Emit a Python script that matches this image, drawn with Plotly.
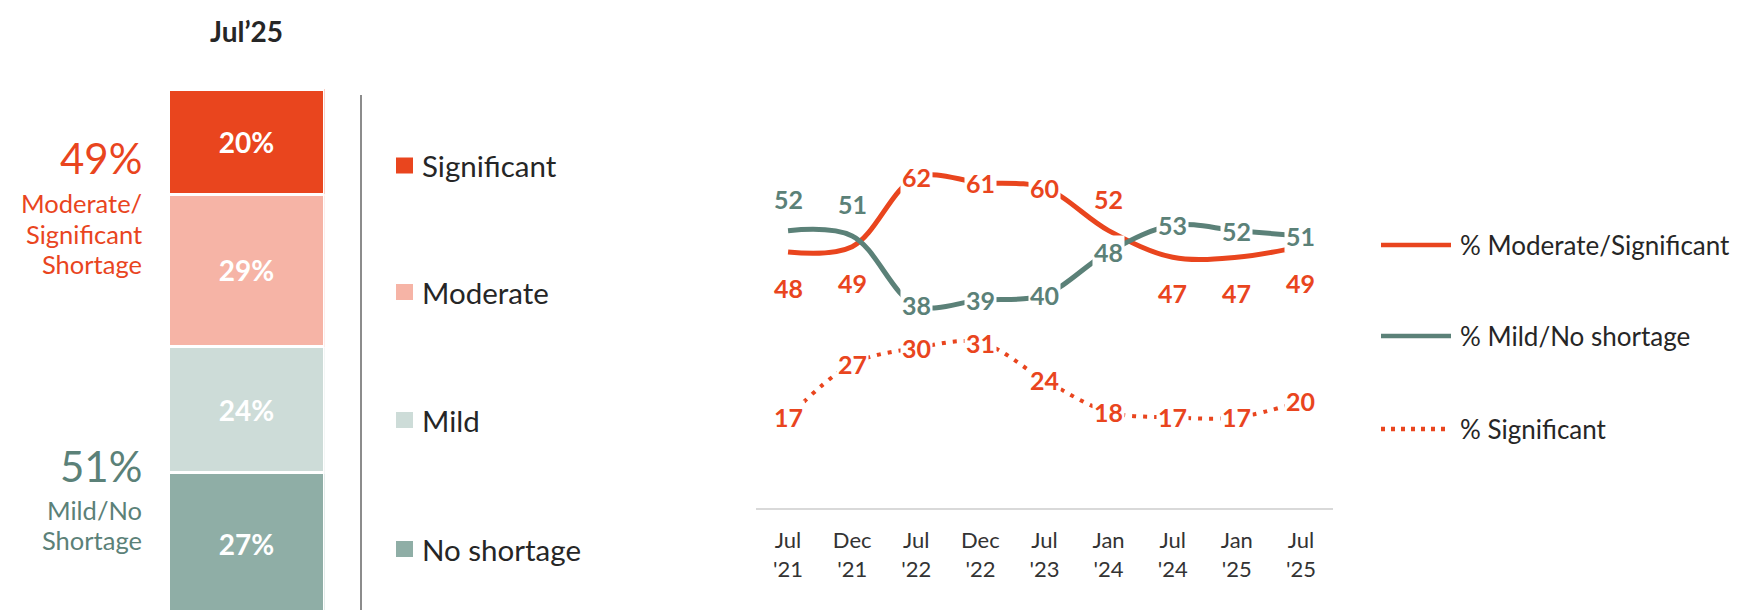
import plotly.graph_objects as go

W, H = 1738, 610
FONT = "Lato, 'Open Sans', 'DejaVu Sans', sans-serif"

# ---------------- data ----------------
bar_title = "Jul’25"
bar_categories = ["No shortage", "Mild", "Moderate", "Significant"]
bar_values = [27, 24, 29, 20]
legend_order = ["Significant", "Moderate", "Mild", "No shortage"]

months = ["Jul", "Dec", "Jul", "Dec", "Jul", "Jan", "Jul", "Jan", "Jul"]
years = ["'21", "'21", "'22", "'22", "'23", "'24", "'24", "'25", "'25"]
mod_sig = [48, 49, 62, 61, 60, 52, 47, 47, 49]
mild_none = [52, 51, 38, 39, 40, 48, 53, 52, 51]
significant = [17, 27, 30, 31, 24, 18, 17, 17, 20]
line_names = ["% Moderate/Significant", "% Mild/No shortage", "% Significant"]
upper_label = ["Moderate/", "Significant", "Shortage"]
lower_label = ["Mild/No", "Shortage"]

# ---------------- styles ----------------
ORANGE = "#E9451E"
TEAL = "#5B8178"
bar_colors = {"No shortage": "#8FAEA6", "Mild": "#CDDCD8",
              "Moderate": "#F6B4A6", "Significant": ORANGE}
TXT = "#262626"

# label placement relative to point (style only)
ms_place = ["below", "below", "mid", "mid", "mid", "above", "below", "below", "below"]
mn_place = ["above", "above", "mid", "mid", "mid", "mid", "mid", "mid", "mid"]
sig_place = ["mid"] * len(significant)
SHIFT = {"above": 32, "below": -36, "mid": 0}


def px(x):
    return x / W


def py(y):
    return 1 - y / H


fig = go.Figure()

# ---------------- stacked bar ----------------
for cat, val in zip(bar_categories, bar_values):
    fig.add_trace(go.Bar(
        x=[0], y=[val], name=cat, xaxis="x", yaxis="y",
        marker=dict(color=bar_colors[cat], line=dict(color="white", width=3)),
        width=1, text=[f"{val}%"], textposition="inside",
        insidetextanchor="middle", textangle=0,
        textfont=dict(family=FONT, size=28, color="white", weight="bold"),
        hoverinfo="skip", showlegend=False,
    ))

# ---------------- trend lines ----------------
xs = list(range(len(months)))
fig.add_trace(go.Scatter(x=xs, y=mod_sig, mode="lines", xaxis="x2", yaxis="y2",
                         line=dict(color=ORANGE, width=5, shape="spline", smoothing=1.0),
                         hoverinfo="skip", showlegend=False))
fig.add_trace(go.Scatter(x=xs, y=mild_none, mode="lines", xaxis="x2", yaxis="y2",
                         line=dict(color=TEAL, width=5, shape="spline", smoothing=1.0),
                         hoverinfo="skip", showlegend=False))
fig.add_trace(go.Scatter(x=xs, y=significant, mode="lines", xaxis="x2", yaxis="y2",
                         line=dict(color=ORANGE, width=4, shape="spline", smoothing=1.0,
                                   dash="4px,7px"),
                         hoverinfo="skip", showlegend=False))

annotations = []
for series, places, color in [(mod_sig, ms_place, ORANGE),
                              (mild_none, mn_place, TEAL),
                              (significant, sig_place, ORANGE)]:
    for i, (v, p) in enumerate(zip(series, places)):
        annotations.append(dict(
            x=i, y=v, xref="x2", yref="y2", text=str(v), showarrow=False,
            xanchor="center", yanchor="middle", yshift=SHIFT[p],
            bgcolor="white" if p == "mid" else "rgba(0,0,0,0)", borderpad=1,
            font=dict(family=FONT, size=25, color=color, weight="bold")))

# ---------------- left texts ----------------
upper_total = bar_values[2] + bar_values[3]
lower_total = bar_values[0] + bar_values[1]
annotations.append(dict(x=px(239), y=py(23), xref="paper", yref="paper",
                        text=f"<b>{bar_title}</b>", showarrow=False,
                        xanchor="center", yanchor="middle",
                        font=dict(family=FONT, size=28, color=TXT)))
for txt, yc, size, color in [(f"{upper_total}%", 149.5, 42, ORANGE),
                             (upper_label[0], 194.5, 25.5, ORANGE),
                             (upper_label[1], 225.5, 25.5, ORANGE),
                             (upper_label[2], 256, 25.5, ORANGE),
                             (f"{lower_total}%", 457.5, 42, TEAL),
                             (lower_label[0], 502, 25.5, TEAL),
                             (lower_label[1], 532, 25.5, TEAL)]:
    annotations.append(dict(x=px(136), y=py(yc), xref="paper", yref="paper", text=txt,
                            showarrow=False, xanchor="right", yanchor="middle",
                            font=dict(family=FONT, size=size, color=color)))

shapes = [
    dict(type="line", xref="paper", yref="paper", x0=px(353), x1=px(353),
         y0=py(87), y1=py(612), line=dict(color="#8C8C8C", width=2)),
]

# left legend (squares)
for name, yc in zip(legend_order, [157.5, 284, 412, 541]):
    shapes.append(dict(type="rect", xref="paper", yref="paper",
                       x0=px(388), x1=px(405), y0=py(yc - 8), y1=py(yc + 8),
                       fillcolor=bar_colors[name], line=dict(width=0)))
    annotations.append(dict(x=px(412), y=py(yc), xref="paper", yref="paper", text=name,
                            showarrow=False, xanchor="left", yanchor="middle",
                            font=dict(family=FONT, size=29.5, color=TXT)))

# right legend (lines)
for name, yc, color, dash in zip(line_names, [237, 328, 421],
                                 [ORANGE, TEAL, ORANGE], ["solid", "solid", "4px,6px"]):
    shapes.append(dict(type="line", xref="paper", yref="paper",
                       x0=px(1373), x1=px(1443), y0=py(yc), y1=py(yc),
                       line=dict(color=color, width=4.5, dash=dash)))
    annotations.append(dict(x=px(1450), y=py(yc), xref="paper", yref="paper", text=name,
                            showarrow=False, xanchor="left", yanchor="middle",
                            font=dict(family=FONT, size=26, color=TXT)))

ticktext = [f"{m}<br>{y}" for m, y in zip(months, years)]
fig.update_layout(
    width=W, height=H, autosize=False,
    margin=dict(l=0, r=0, t=0, b=0, pad=0),
    paper_bgcolor="white", plot_bgcolor="rgba(0,0,0,0)",
    barmode="stack", bargap=0, showlegend=False, hovermode=False,
    font=dict(family=FONT, color=TXT),
    xaxis=dict(domain=[px(160.5), px(316.5)], range=[-0.5, 0.5], visible=False, fixedrange=True),
    yaxis=dict(domain=[py(607), py(81)], range=[0, 100], visible=False, fixedrange=True),
    xaxis2=dict(domain=[px(748), px(1325)], anchor="y2", range=[-0.5, len(months) - 0.5],
                tickmode="array", tickvals=xs, ticktext=ticktext,
                showline=True, linecolor="#D9D9D9", linewidth=2, ticks="",
                showgrid=False, zeroline=False, ticklabelstandoff=12,
                tickfont=dict(family=FONT, size=22, color="#333333"), fixedrange=True),
    yaxis2=dict(domain=[py(500), py(73.3)], range=[0, 80], visible=False,
                fixedrange=True),
    annotations=annotations, shapes=shapes,
)

fig.write_html("out.html", config={"displayModeBar": False, "staticPlot": True})
